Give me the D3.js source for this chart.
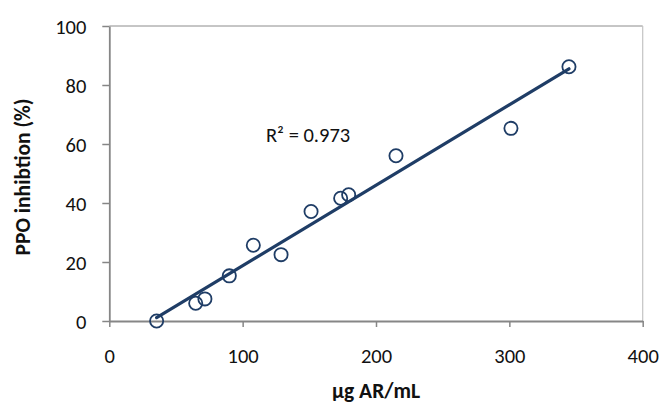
<!DOCTYPE html>
<html>
<head>
<meta charset="utf-8">
<script src="https://cdn.jsdelivr.net/npm/d3@7/dist/d3.min.js"></script>
<style>
  html, body { margin: 0; padding: 0; background: #fff; }
  svg { display: block; font-family: Carlito, Lato, "Open Sans", sans-serif; }
</style>
</head>
<body>
<svg id="chart" width="660" height="405"></svg>
<script>
// Extract concentration (µg AR/mL) vs. PPO inhibition (%)
const concentration = [35.5, 64.8, 71.7, 90.0, 108.0, 128.8, 151.3, 173.5, 179.5, 215.0, 301.2, 344.7];
const inhibition    = [0.0, 6.0, 7.5, 15.3, 25.7, 22.5, 37.1, 41.6, 42.8, 56.0, 65.3, 86.2];
const xTicks = [0, 100, 200, 300, 400];
const yTicks = [0, 20, 40, 60, 80, 100];
const xTitle = "μg AR/mL";
const yTitle = "PPO inhibtion (%)";

const svg = d3.select("#chart");
const plotL = 109.3, plotR = 642.7, plotT = 26, plotB = 321;

const x = d3.scaleLinear().domain([0, 400]).range([plotL, plotR]);
const y = d3.scaleLinear().domain([0, 100]).range([plotB, plotT]);

const axisColor = "#868686";
const markColor = "#1f3d66";
const labelSize = "20.5px";
const titleSize = "21.5px";

// Plot frame: top and right edges
svg.append("line").attr("x1", plotL).attr("x2", plotR).attr("y1", plotT).attr("y2", plotT)
  .attr("stroke", "#8c8c8c").attr("stroke-width", 1);
svg.append("line").attr("x1", plotR).attr("x2", plotR).attr("y1", plotT).attr("y2", plotB)
  .attr("stroke", "#c4c4c4").attr("stroke-width", 1.2);

// Axes
const xAxis = svg.append("g").attr("transform", `translate(0,${plotB})`)
  .call(d3.axisBottom(x).tickValues(xTicks).tickSize(6).tickSizeOuter(0).tickPadding(21).tickFormat(d3.format("d")));
const yAxis = svg.append("g").attr("transform", `translate(${plotL},0)`)
  .call(d3.axisLeft(y).tickValues(yTicks).tickSize(7).tickSizeOuter(0).tickPadding(16).tickFormat(d3.format("d")));

[xAxis, yAxis].forEach(g => {
  g.select(".domain").attr("stroke", axisColor).attr("stroke-width", 1.8);
  g.selectAll(".tick line").attr("stroke", axisColor).attr("stroke-width", 1.5);
  g.selectAll(".tick text").attr("fill", "#111").style("font-size", labelSize)
    .style("font-family", "Carlito, Lato, 'Open Sans', sans-serif");
});
yAxis.selectAll(".tick text").attr("dy", "0.35em");

// Data markers
const pts = concentration.map((c, i) => ({ c, v: inhibition[i] }));
svg.append("g").selectAll("circle").data(pts).join("circle")
  .attr("cx", d => x(d.c)).attr("cy", d => y(d.v)).attr("r", 6.6)
  .attr("fill", "none").attr("stroke", markColor).attr("stroke-width", 1.8);

// Linear least-squares trendline
const mx = d3.mean(concentration), my = d3.mean(inhibition);
let sxy = 0, sxx = 0, syy = 0;
pts.forEach(d => { sxy += (d.c - mx) * (d.v - my); sxx += (d.c - mx) ** 2; syy += (d.v - my) ** 2; });
const slope = sxy / sxx, intercept = my - slope * mx;
const r2 = (sxy * sxy) / (sxx * syy);
const [xmin, xmax] = d3.extent(concentration);
svg.append("line")
  .attr("x1", x(xmin)).attr("y1", y(intercept + slope * xmin))
  .attr("x2", x(xmax)).attr("y2", y(intercept + slope * xmax))
  .attr("stroke", markColor).attr("stroke-width", 3.2).attr("stroke-linecap", "round");

// R² annotation
svg.append("text").attr("x", x(117.5)).attr("y", y(60.7))
  .attr("fill", "#111").style("font-size", labelSize)
  .text(`R² = ${r2.toFixed(3)}`);

// Axis titles
svg.append("text").attr("x", 376).attr("y", 398)
  .attr("text-anchor", "middle").attr("fill", "#111")
  .style("font-size", titleSize).style("font-weight", "bold").text(xTitle);
svg.append("text").attr("transform", "translate(30,177) rotate(-90)")
  .attr("text-anchor", "middle").attr("fill", "#111")
  .style("font-size", titleSize).style("font-weight", "bold").text(yTitle);
</script>
</body>
</html>
